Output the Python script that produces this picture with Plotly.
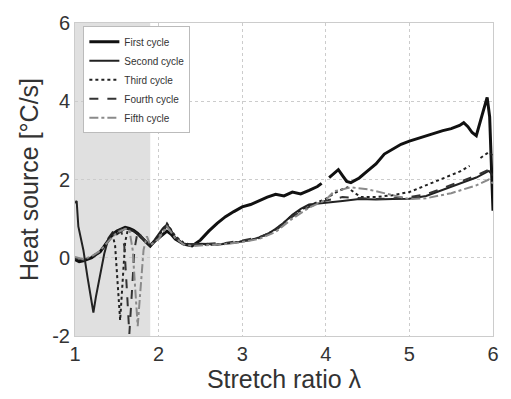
import plotly.graph_objects as go

# ---------------- data ----------------
names = ["First cycle", "Second cycle", "Third cycle", "Fourth cycle", "Fifth cycle"]

x1 = [1.0, 1.05, 1.1, 1.15, 1.2, 1.25, 1.3, 1.35, 1.4, 1.45, 1.5, 1.55, 1.6, 1.65, 1.7, 1.75, 1.8,
      1.85, 1.9, 1.95, 2.0, 2.05, 2.1, 2.15, 2.2, 2.3, 2.4, 2.5, 2.6, 2.7, 2.8, 2.9, 3.0, 3.1,
      3.2, 3.3, 3.4, 3.5, 3.6, 3.7, 3.8, 3.9, 3.95, 3.99, 4.04, 4.1, 4.15, 4.2, 4.25, 4.3, 4.4,
      4.5, 4.6, 4.7, 4.8, 4.9, 5.0, 5.1, 5.2, 5.3, 5.4, 5.5, 5.6, 5.65, 5.7, 5.75, 5.8, 5.85,
      5.9, 5.93, 5.96, 5.98, 6.0]
y1 = [-0.05, -0.1, -0.08, -0.04, 0.0, 0.08, 0.15, 0.3, 0.45, 0.6, 0.68, 0.72, 0.78, 0.75, 0.7,
      0.62, 0.5, 0.4, 0.3, 0.42, 0.5, 0.6, 0.68, 0.6, 0.48, 0.35, 0.3, 0.45, 0.68, 0.88, 1.05,
      1.18, 1.3, 1.36, 1.46, 1.55, 1.62, 1.58, 1.68, 1.63, 1.72, 1.82, 1.9, None, 2.05, 2.15,
      2.25, 2.1, 1.95, 1.92, 2.04, 2.22, 2.4, 2.65, 2.78, 2.9, 2.98, 3.05, 3.1, 3.17, 3.25, 3.3,
      3.38, 3.45, 3.35, 3.2, 3.12, 3.5, 3.85, 4.1, 3.6, 2.5, 1.2]

x2 = [1.0, 1.02, 1.04, 1.07, 1.1, 1.15, 1.2, 1.22, 1.25, 1.3, 1.35, 1.4, 1.45, 1.5, 1.55, 1.6,
      1.65, 1.7, 1.75, 1.8, 1.85, 1.9, 1.95, 2.0, 2.05, 2.1, 2.15, 2.2, 2.3, 2.4, 2.5, 2.6, 2.7,
      2.8, 2.9, 3.0, 3.1, 3.2, 3.3, 3.4, 3.5, 3.6, 3.7, 3.8, 3.9, 4.0, 4.2, 4.4, 4.6, 4.8, 5.0,
      5.2, 5.4, 5.6, 5.8, 5.95, 6.0]
y2 = [1.4, 1.45, 0.8, 0.45, 0.2, -0.5, -1.2, -1.4, -1.0, -0.4, 0.1, 0.5, 0.65, 0.6, 0.68, 0.75,
      0.72, 0.68, 0.6, 0.5, 0.42, 0.32, 0.45, 0.6, 0.75, 0.85, 0.7, 0.5, 0.35, 0.32, 0.36, 0.35,
      0.33, 0.36, 0.38, 0.42, 0.45, 0.52, 0.6, 0.74, 0.9, 1.1, 1.25, 1.36, 1.38, 1.4, 1.45, 1.5,
      1.49, 1.5, 1.51, 1.58, 1.74, 1.9, 2.05, 2.22, 2.1]

x3 = [1.0, 1.1, 1.2, 1.3, 1.4, 1.45, 1.48, 1.51, 1.54, 1.57, 1.6, 1.63, 1.7, 1.8, 1.9, 2.0,
      2.1, 2.2, 2.3, 2.4, 2.6, 2.8, 3.0, 3.2, 3.4, 3.6, 3.8, 4.0, 4.1, 4.2, 4.26, 4.35, 4.42,
      4.6, 4.8, 5.0, 5.2, 5.4, 5.6, 5.72, 5.78, 5.85, 5.95, 6.0]
y3 = [-0.02, -0.06, 0.02, 0.15, 0.45, 0.6, 0.3, -0.6, -1.6, -0.6, 0.4, 0.7, 0.7, 0.5, 0.3,
      0.55, 0.88, 0.55, 0.38, 0.33, 0.33, 0.36, 0.42, 0.5, 0.72, 1.08, 1.34, 1.5, 1.65, 1.75,
      1.8, 1.65, 1.55, 1.55, 1.6, 1.68, 1.85, 2.02, 2.2, 2.35, None, 2.55, 2.7, 2.6]

x4 = [1.0, 1.1, 1.2, 1.3, 1.4, 1.5, 1.55, 1.59, 1.62, 1.65, 1.68, 1.71, 1.75, 1.8, 1.9, 2.0,
      2.1, 2.2, 2.3, 2.4, 2.6, 2.8, 3.0, 3.2, 3.4, 3.6, 3.8, 4.0, 4.2, 4.4, 4.6, 4.8, 5.0, 5.2,
      5.4, 5.6, 5.8, 5.95, 6.0]
y4 = [0.0, -0.05, 0.03, 0.16, 0.44, 0.66, 0.72, 0.3, -0.8, -1.95, -0.9, 0.2, 0.68, 0.52, 0.3,
      0.5, 0.82, 0.52, 0.36, 0.35, 0.36, 0.38, 0.44, 0.52, 0.7, 1.05, 1.3, 1.46, 1.55, 1.52,
      1.5, 1.52, 1.55, 1.62, 1.78, 1.95, 2.1, 2.25, 2.15]

x5 = [1.0, 1.1, 1.2, 1.3, 1.4, 1.5, 1.6, 1.65, 1.69, 1.72, 1.75, 1.78, 1.82, 1.86, 1.9, 2.0,
      2.1, 2.2, 2.3, 2.4, 2.6, 2.8, 3.0, 3.2, 3.4, 3.6, 3.8, 4.0, 4.1, 4.3, 4.5, 4.7, 5.0, 5.2,
      5.5, 5.8, 5.95, 6.0]
y5 = [0.02, -0.04, 0.04, 0.18, 0.42, 0.64, 0.74, 0.72, 0.2, -0.9, -1.75, -0.9, 0.2, 0.55,
      0.32, 0.48, 0.8, 0.5, 0.34, 0.3, 0.32, 0.35, 0.4, 0.48, 0.66, 1.0, 1.28, 1.48, 1.7, 1.8,
      1.75, 1.65, 1.5, 1.52, 1.65, 1.85, 2.0, 1.9]

shade_x = [1.0, 1.9]
x_ticks = [1, 2, 3, 4, 5, 6]
y_ticks = [-2, 0, 2, 4, 6]

# ---------------- figure ----------------
series = [(x1, y1), (x2, y2), (x3, y3), (x4, y4), (x5, y5)]
styles = [
    dict(color="#111111", width=3, dash="solid"),
    dict(color="#222222", width=2, dash="solid"),
    dict(color="#222222", width=2, dash="dot"),
    dict(color="#333333", width=2, dash="dash"),
    dict(color="#8a8a8a", width=2, dash="dashdot"),
]

fig = go.Figure()
for (xs, ys), nm, st in zip(series, names, styles):
    fig.add_trace(go.Scatter(x=xs, y=ys, mode="lines", name=nm, line=st,
                             connectgaps=False))

fig.add_shape(type="rect", xref="x", yref="y", x0=shade_x[0], x1=shade_x[1],
              y0=y_ticks[0], y1=y_ticks[-1], fillcolor="#e0e0e0", line_width=0,
              layer="below")

font_main = "Liberation Sans, Arial, sans-serif"
fig.update_layout(
    width=511, height=399,
    margin=dict(l=75, r=14, t=20, b=63),
    paper_bgcolor="white", plot_bgcolor="white",
    font=dict(family=font_main, color="#333333"),
    showlegend=True,
    legend=dict(x=0.02, y=0.99, xanchor="left", yanchor="top",
                bgcolor="white", bordercolor="#bbbbbb", borderwidth=1,
                font=dict(size=10, color="#333333"), itemwidth=30),
)
fig.update_xaxes(range=[1, 6], tickvals=x_ticks, ticktext=[str(v) for v in x_ticks],
                 showgrid=True, gridcolor="#cccccc", griddash="dot", zeroline=False,
                 showline=True, linecolor="#cccccc", mirror=True, ticks="",
                 tickfont=dict(size=20), title=dict(text="Stretch ratio λ",
                 font=dict(size=25), standoff=4))
fig.update_yaxes(range=[-2, 6], tickvals=y_ticks, ticktext=[str(v) for v in y_ticks],
                 showgrid=True, gridcolor="#cccccc", griddash="dot", zeroline=False,
                 showline=True, linecolor="#cccccc", mirror=True, ticks="",
                 tickfont=dict(size=20), title=dict(text="Heat source [°C/s]",
                 font=dict(size=25), standoff=6))

fig.write_html("out.html")
